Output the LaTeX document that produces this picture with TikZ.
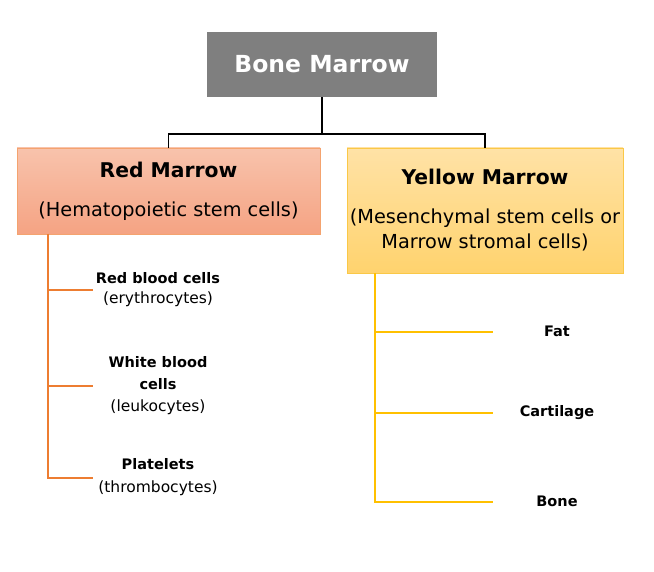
\documentclass[tikz,border=0pt]{standalone}
\usepackage{fontspec}
\setmainfont{DejaVu Sans}
\usetikzlibrary{positioning}
\definecolor{headgray}{HTML}{7F7F7F}
\definecolor{redtop}{HTML}{F8C3AC}
\definecolor{redbot}{HTML}{F5A383}
\definecolor{redrim}{HTML}{F4A36F}
\definecolor{redline}{HTML}{ED7D31}
\definecolor{yeltop}{HTML}{FFE2A6}
\definecolor{yelbot}{HTML}{FFD36E}
\definecolor{yelrim}{HTML}{FAC847}
\definecolor{yelline}{HTML}{FFC000}
\tikzset{
  headbox/.style={fill=headgray,text=white,inner sep=0pt,minimum width=230pt,minimum height=65pt,
    font=\bfseries\fontsize{23.5}{27}\selectfont},
  redbox/.style={draw=redrim,top color=redtop,bottom color=redbot,inner sep=0pt,
    minimum width=303pt,minimum height=86pt,align=center,font=\fontsize{19.3}{23}\selectfont},
  yelbox/.style={draw=yelrim,top color=yeltop,bottom color=yelbot,inner sep=0pt,
    minimum width=276pt,minimum height=125pt,align=center,font=\fontsize{19.3}{25}\selectfont},
  leaf/.style={align=center,inner sep=0pt,font=\fontsize{15.5}{20}\selectfont},
  trunk/.style={line width=1.4pt},
  redbranch/.style={redline,line width=1.8pt},
  yelbranch/.style={yelline,line width=1.8pt}
}
\newcommand{\leafhead}[1]{{\bfseries\fontsize{14.5}{20}\selectfont #1}}
\begin{document}
\begin{tikzpicture}[x=1pt,y=-1pt]
  \useasboundingbox (0,0) rectangle (654,572);
  % top level
  \node[headbox] (bone) at (322,64.5) {Bone Marrow};
  \node[redbox] (red) at (168.5,191) {\textbf{\fontsize{20.3}{23}\selectfont Red Marrow}\\[16pt](Hematopoietic stem cells)};
  \node[yelbox] (yellow) at (485,210.5) {\textbf{\fontsize{20.3}{23}\selectfont Yellow Marrow}\\[14pt](Mesenchymal stem cells or\\Marrow stromal cells)};
  \coordinate (split) at (322,134);
  \draw[trunk] (bone.south) -- (split);
  \draw[trunk] (split) -| (red.north);
  \draw[trunk] (split) -| (yellow.north);
  % red marrow branches
  \coordinate (rtop) at (48,234);
  \coordinate (r1) at (93,290);
  \coordinate (r2) at (93,386);
  \coordinate (r3) at (93,478);
  \draw[redbranch] (rtop) |- (r3);
  \draw[redbranch] (rtop |- r1) -- (r1);
  \draw[redbranch] (rtop |- r2) -- (r2);
  \node[leaf] (rbc) at (158,290) {\leafhead{Red blood cells}\\(erythrocytes)};
  \node[leaf,font=\fontsize{15.5}{22}\selectfont] (wbc) at (158,386) {\leafhead{White blood}\\\leafhead{cells}\\(leukocytes)};
  \node[leaf,font=\fontsize{15.5}{23}\selectfont] (plt) at (158,477.5) {\leafhead{Platelets}\\(thrombocytes)};
  % yellow marrow branches
  \coordinate (ytop) at (375,273);
  \coordinate (y1) at (493,332);
  \coordinate (y2) at (493,413);
  \coordinate (y3) at (493,502);
  \draw[yelbranch] (ytop) |- (y3);
  \draw[yelbranch] (ytop |- y1) -- (y1);
  \draw[yelbranch] (ytop |- y2) -- (y2);
  \node[leaf] (fat) at (557,331) {\leafhead{Fat}};
  \node[leaf] (cart) at (557,413) {\leafhead{Cartilage}};
  \node[leaf] (bn) at (557,501) {\leafhead{Bone}};
\end{tikzpicture}
\end{document}
